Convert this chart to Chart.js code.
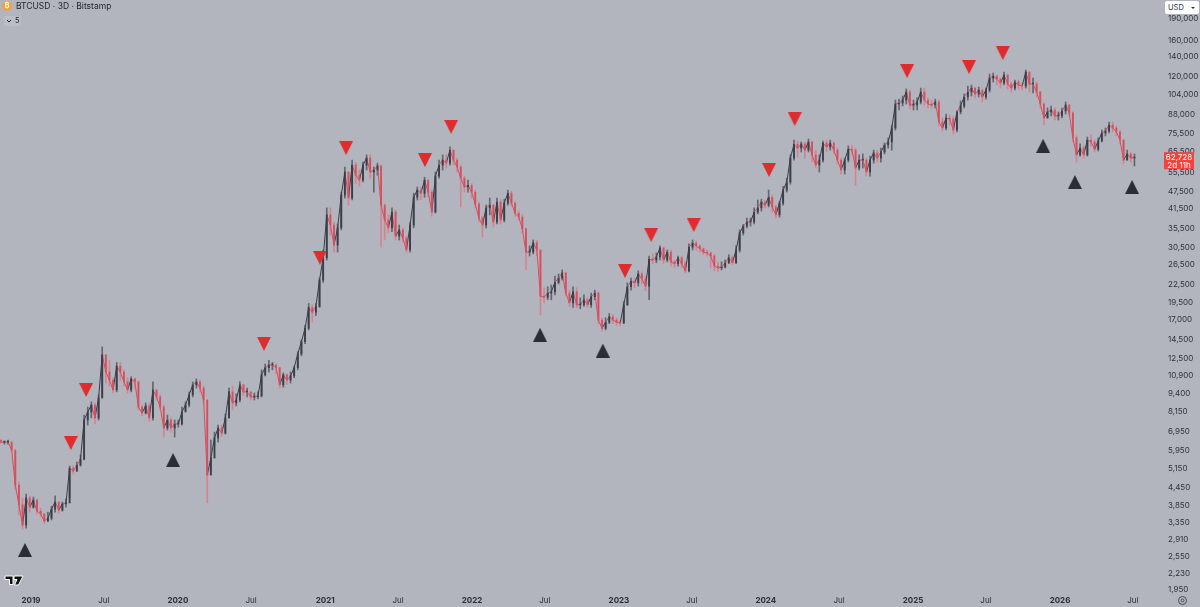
<!DOCTYPE html>
<html>
<head>
<meta charset="utf-8">
<title>BTCUSD 3D</title>
<script src="https://cdn.jsdelivr.net/npm/chart.js@4"></script>
<style>
  html, body { margin: 0; padding: 0; background: #b2b5be; overflow: hidden; }
  #wrap { position: relative; width: 1200px; height: 607px; font-family: Inter, "Noto Sans", sans-serif; color: #23262f; }
  canvas { position: absolute; left: 0; top: 0; }
  .abs { position: absolute; white-space: nowrap; }
  #coin { left: 2px; top: 1px; width: 10px; height: 10px; border-radius: 50%; background: #f7a03a; color: #fff; font-size: 7px; line-height: 10px; text-align: center; font-weight: 700; }
  #title { left: 16px; top: 0; font-size: 8.5px; line-height: 13px; }
  #folded { left: 4px; top: 16px; width: 17px; height: 10px; background: #bbbec6; border-radius: 2px; font-size: 7.5px; line-height: 10px; text-indent: 11px; }
  #usd { left: 1165px; top: 1px; width: 34px; height: 13px; background: #fff; border-radius: 2px; font-size: 7.5px; line-height: 13px; text-indent: 3px; color: #2a2e39; }
  #usd i { position: absolute; right: 4px; top: 6px; border: 2px solid transparent; border-top: 2px solid #2a2e39; }
</style>
</head>
<body>
<div id="wrap">
  <canvas id="chart" width="1200" height="607"></canvas>
  <div class="abs" id="coin">₿</div>
  <div class="abs" id="title">BTCUSD · 3D · Bitstamp</div>
  <div class="abs" id="folded">5</div>
  <svg class="abs" style="left:6px;top:19px" width="6" height="5"><path d="M1 1 L3 3 L5 1" fill="none" stroke="#23262f" stroke-width="1"/></svg>
  <div class="abs" id="usd">USD<i></i></div>
  <svg class="abs" style="left:4px;top:575px" width="20" height="12"><path d="M1 1 H9 V9.5 H5.5 V4.5 H1 Z M10 1 H19 L14.5 10 H10.5 L13 4.5 H10 Z" fill="#111" stroke="#fff" stroke-width="1"/></svg>
  <svg class="abs" style="left:1177px;top:595px" width="11" height="11"><circle cx="5.5" cy="5.5" r="4" fill="none" stroke="#33363f" stroke-width=".8"/><circle cx="5.5" cy="5.5" r="1.4" fill="none" stroke="#33363f" stroke-width=".8"/></svg>
</div>
<script>
// Three-day BTCUSD candles, one of every three kept (nine days apart).
const firstDay = -75;      // days from 1 Jan 2019
const stepDays = 9;

const closes = [
6380,6380,6380,5990,4530,3860,3280,4080,3790,4010,
3670,3590,3390,3470,3730,3950,3700,3890,3920,5180,
5060,5310,5570,7620,8130,8600,7750,9100,12850,11200,
10500,9700,11750,11200,10350,9700,10600,10350,8460,8060,
8540,7750,9700,9170,8460,7150,7620,7150,7380,7380,
8130,8600,9330,10100,10350,9850,8950,4900,5620,6600,
7150,6860,7750,9550,8740,8950,10100,9550,9550,9170,
9170,9250,10950,11600,11850,11850,11600,10100,10950,10500,
10850,11600,12950,14300,15900,18800,18100,18950,23400,28000,
39500,36400,31000,35600,46300,55700,45200,58900,54300,52200,
58900,62300,55700,56600,58500,42700,37900,35600,40400,33300,
35000,32800,29800,36400,45500,48200,47000,52200,47400,40400,
53900,58900,61300,59800,66400,61300,57900,53000,49400,50100,
47400,43100,38500,36400,41800,42700,37300,43800,37900,43400,
47000,43400,40000,38800,35300,29300,29300,31600,29800,20600,
20400,21100,21300,23000,23800,24800,21100,19500,21300,19200,
19200,20000,19200,20500,21100,17000,15900,16700,17450,17000,
16700,16600,19200,22200,23200,22900,24600,23600,22300,27700,
27500,28200,30300,27500,29300,27100,26700,28000,26700,25200,
30500,31500,30800,30100,29300,29100,28400,26200,25800,26000,
26900,28000,26900,29800,34200,36100,37300,37300,40400,41800,
43800,42700,45500,42100,39500,43400,48200,51400,62300,69500,
67500,69800,66400,70900,63900,58900,61300,70300,68100,70300,
66400,61300,56600,61300,66900,66400,57500,61300,61300,55700,
61300,64900,62300,65400,69200,70900,79300,96100,96900,99200,
105800,95300,95300,97700,105800,99200,96100,95300,97700,83200,
79300,85900,85200,78000,90200,94600,101700,105800,109200,104100,
107500,101700,107500,118300,120200,117400,113700,121200,112800,109200,
114600,111900,111000,124200,112800,112800,105800,96100,85900,90200,
91600,87300,87300,90900,95300,89500,73200,63900,67500,63900,
72000,70900,66900,71400,76200,77400,81200,79300,76800,72000,
61300,64400,62300,62728];

const highs = [
6490,6440,6490,6440,5990,4640,4080,4210,4150,4110,
4050,3760,3590,3640,3820,4150,3950,3950,4050,5270,
5270,5440,5750,7930,8460,8820,8740,9330,13700,12850,
12300,10700,12100,12100,11400,10700,10780,10700,10430,8600,
8740,8680,10350,9700,9330,8600,7930,7750,7620,7620,
8460,8820,9550,10350,10600,10500,10000,8950,6490,6920,
7320,7320,8000,9850,10000,9400,10350,10150,9850,9550,
9470,9550,11400,11950,12300,12100,11950,11600,11120,11050,
11200,11750,13200,14500,16300,19400,19200,19400,23800,29800,
41800,41800,37300,36700,47400,57900,55700,61300,60300,56600,
60300,63900,63900,57900,59800,58900,43100,39500,41800,41100,
36400,35600,33300,37300,47000,49400,49400,53400,52200,48200,
55700,61300,63900,63900,68100,66400,62300,58900,53900,52200,
50900,48200,43800,39100,42700,45200,43100,45200,44500,44800,
48200,47800,44100,40700,39500,35600,30800,32300,32300,29800,
22000,22200,22500,24200,24600,25400,25000,21600,22200,22000,
20300,20800,20300,21100,21600,21300,17300,17300,17900,17800,
17300,17000,19700,22900,23800,23800,25200,25000,24200,28400,
28900,29100,30800,30300,29800,29800,27500,28400,28400,27100,
31300,32300,32000,31000,30300,29800,29300,28700,27100,27100,
27500,28700,28400,30800,35000,36600,38500,38500,41800,44500,
44800,44500,48200,46300,42700,44100,49700,53000,63900,72000,
71400,70900,70900,72600,71400,66400,63900,71400,72000,72000,
70900,67500,62300,62300,68700,69200,67500,63900,64400,62300,
63300,66400,66400,67500,70300,73200,81200,99200,100000,102500,
108400,107500,99200,100900,109200,109200,100900,99200,100000,99200,
85900,88700,88000,86600,90900,98500,104100,111000,111900,110100,
110100,107500,109200,122200,123200,121200,118300,124200,122200,114600,
116500,116500,113700,126200,124200,118300,114600,106600,97000,93100,
94600,93100,90200,93100,97700,96100,90200,74400,69800,68700,
73800,75000,72000,73200,78000,79300,83200,83200,80600,78000,
72000,66400,65400,64400];

const lows = [
6330,6280,6280,5890,4350,3560,3180,3200,3640,3760,
3590,3510,3330,3370,3420,3640,3610,3670,3790,4080,
4940,5060,5270,5530,7320,7750,7380,7620,9100,10250,
10000,9470,9550,10500,10000,9470,9550,9850,8260,7870,
8000,7560,7620,8950,8260,6650,7030,6920,6650,7200,
7320,8260,8460,9170,9850,9550,8680,3920,5100,6230,
6380,6700,6810,7750,8260,8540,8820,9250,9170,8950,
8950,9020,9170,10850,11200,11400,11050,9850,9920,10150,
10250,10700,11400,12750,14050,15700,16700,17600,18800,23000,
27500,33600,29300,29300,35000,45200,42700,44500,50900,49700,
51400,56600,53000,47400,54300,30500,32300,34200,34500,32300,
32300,31800,29300,29300,35600,44500,44500,45500,45500,39100,
40100,53000,56600,57500,58900,58900,55700,42100,47400,47400,
45200,41800,37300,33100,35600,39500,35800,36700,36700,37300,
42700,42400,39100,37900,34200,25400,28400,28900,28400,17700,
19500,20000,20000,20800,22700,23400,20600,18950,18800,18800,
18600,18950,18800,18800,20000,16500,15550,15700,16500,16500,
16300,16200,16500,19100,21600,22000,22300,22700,21500,20000,
26700,26900,27500,26700,27100,26200,25800,26200,25800,24800,
25000,29800,29800,29300,28700,28400,25800,25200,25000,25400,
25800,26700,26500,26700,29300,33600,35600,36100,36700,39800,
40700,41800,42100,40400,38500,38800,42700,47400,50500,61300,
62800,65400,62300,65400,60300,57500,55700,60300,65400,66400,
64400,59400,54800,54800,60300,63900,50100,56600,57500,53900,
53900,59800,60300,60300,64400,67500,66400,78000,91600,94600,
96100,92400,91600,91600,96100,95300,93100,93100,93100,80600,
77400,78000,81200,75600,76800,88700,93100,99200,102500,100900,
101700,97700,100000,105800,114600,111900,109200,111900,108400,105800,
107500,108400,107500,109200,105800,105000,101700,93100,81200,85900,
87300,84500,84500,85900,88700,87300,70900,60300,63300,62300,
63300,68700,65400,65900,70900,74400,76200,76800,74400,69800,
59400,61300,60300,58500];

// Signal markers: day offset and price level.
const sellDays   = [99,137,579,718,783,979,1044,1476,1541,1647,1834,1898,2177,2331,2415];
const sellPrices = [6340,9700,14050,28000,67500,61300,80000,25200,33600,36400,56600,85200,125200,129300,144600];
const buyDays    = [-15,353,1265,1421,2515,2594,2736];
const buyPrices  = [2690,5530,15100,13300,68700,51400,49400];

// Axis labels.
const priceTicks = [190000,160000,140000,120000,104000,88000,75500,65500,55500,47500,41500,35500,30500,26500,22500,19500,17000,14500,12500,10900,9400,8150,6950,5950,5150,4450,3850,3350,2910,2550,2230,1950];
const timeTicks  = [0,181,365,547,731,912,1096,1277,1461,1642,1826,2008,2192,2373,2557,2738];
const timeLabels = ['2019','Jul','2020','Jul','2021','Jul','2022','Jul','2023','Jul','2024','Jul','2025','Jul','2026','Jul'];
const lastPrice  = 62728;
const countdown  = '2d 11h';

const UP = '#3a3e49', DOWN = '#d4505f', UP_WICK = '#62666f', DOWN_WICK = '#d5848e';
const FONT = 'Inter, "Noto Sans", sans-serif';

const days = closes.map((_, i) => firstDay + i * stepDays);
const opens = closes.map((c, i) => i ? closes[i - 1] : highs[0]);
const isUp = closes.map((c, i) => c >= opens[i]);

// Filled triangular marker pointing up or down.
function triangle(color, down) {
  const c = document.createElement('canvas');
  c.width = 14; c.height = 14;
  const g = c.getContext('2d');
  g.fillStyle = color;
  g.beginPath();
  if (down) { g.moveTo(0, 0); g.lineTo(14, 0); g.lineTo(7, 14); }
  else      { g.moveTo(7, 0); g.lineTo(14, 14); g.lineTo(0, 14); }
  g.closePath();
  g.fill();
  return c;
}

// Last-price tag on the price axis.
const priceTag = {
  id: 'priceTag',
  afterDraw(chart) {
    const g = chart.ctx, y = chart.scales.y.getPixelForValue(lastPrice);
    g.save();
    g.fillStyle = '#f5423f';
    g.fillRect(1164, y - 5, 30, 17);
    g.fillStyle = '#fff';
    g.font = '8px ' + FONT;
    g.textAlign = 'center';
    g.textBaseline = 'middle';
    g.fillText(lastPrice.toLocaleString('en-US'), 1179, y);
    g.fillText(countdown, 1179, y + 8);
    g.restore();
  }
};

new Chart(document.getElementById('chart'), {
  type: 'bar',
  plugins: [priceTag],
  data: {
    datasets: [
      { type: 'scatter', label: 'Sell', order: 0,
        data: sellDays.map((d, i) => ({ x: d, y: sellPrices[i] })),
        pointStyle: triangle('#e02c2e', true), pointRadius: 7 },
      { type: 'scatter', label: 'Buy', order: 0,
        data: buyDays.map((d, i) => ({ x: d, y: buyPrices[i] })),
        pointStyle: triangle('#2a2d36', false), pointRadius: 7 },
      { label: 'Body', order: 1, grouped: false, barThickness: 1.2, minBarLength: 1,
        data: days.map((d, i) => ({ x: d, y: [opens[i], closes[i]] })),
        backgroundColor: isUp.map(u => u ? UP : DOWN) },
      { type: 'line', label: 'Close', order: 2, pointRadius: 0, borderWidth: 1, tension: 0,
        data: days.map((d, i) => ({ x: d, y: closes[i] })),
        borderColor: DOWN,
        // strong advances read as dark runs, everything else as the red trace
        segment: { borderColor: s => s.p1.parsed.y / s.p0.parsed.y > 1.05 ? UP : DOWN } },
      { label: 'Wick', order: 3, grouped: false, barThickness: 1,
        data: days.map((d, i) => ({ x: d, y: [lows[i], highs[i]] })),
        backgroundColor: isUp.map(u => u ? UP_WICK : DOWN_WICK) }
    ]
  },
  options: {
    responsive: false,
    animation: false,
    layout: { padding: 0, autoPadding: false },
    plugins: { legend: { display: false }, tooltip: { enabled: false } },
    scales: {
      x: {
        type: 'linear', min: -77, max: 2808, offset: false,
        grid: { display: false, drawTicks: false }, border: { display: false },
        afterFit(s) { s.height = 15; s.paddingLeft = 0; s.paddingRight = 0; },
        afterBuildTicks(s) { s.ticks = timeTicks.map(v => ({ value: v })); },
        ticks: {
          autoSkip: false, maxRotation: 0, padding: 4, color: '#2a2d36',
          callback: v => timeLabels[timeTicks.indexOf(v)],
          font: ctx => {
            const year = ctx.tick && timeLabels[timeTicks.indexOf(ctx.tick.value)] !== 'Jul';
            return { family: FONT, size: 8, weight: year ? '700' : '400' };
          }
        }
      },
      y: {
        type: 'logarithmic', position: 'right', min: 1919, max: 221300,
        grid: { display: false, drawTicks: false }, border: { display: false },
        afterFit(s) { s.width = 39; s.paddingTop = 0; s.paddingBottom = 0; },
        afterBuildTicks(s) { s.ticks = priceTicks.map(v => ({ value: v })); },
        ticks: {
          autoSkip: false, padding: 7, color: '#2f323b',
          font: { family: FONT, size: 8 },
          callback: v => Number(v).toLocaleString('en-US')
        }
      }
    }
  }
});
</script>
</body>
</html>
